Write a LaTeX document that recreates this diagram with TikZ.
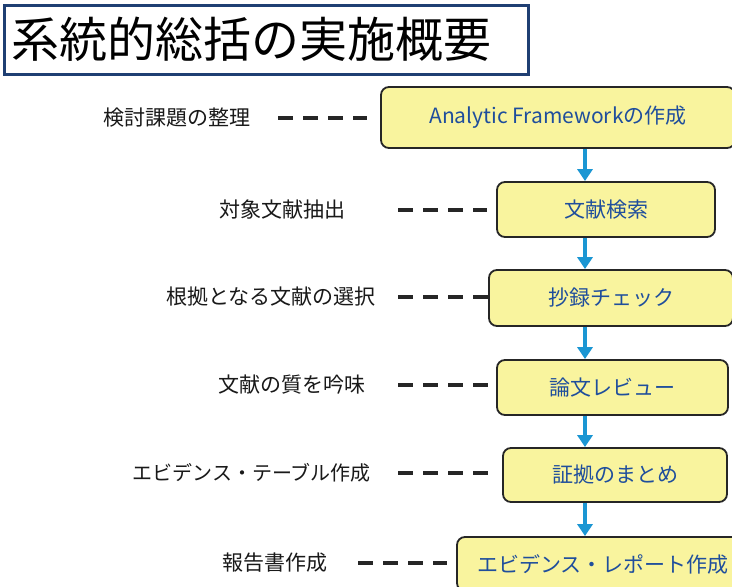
\documentclass[tikz,border=0pt]{standalone}
\usepackage{fontspec}
\newfontfamily\jp{Noto Sans CJK JP}
\usetikzlibrary{arrows.meta}
\definecolor{boxfill}{HTML}{F9F49E}
\definecolor{boxtext}{HTML}{1F4E9C}
\definecolor{arrblue}{HTML}{1B96D3}
\definecolor{titleblue}{HTML}{1F3F73}
\tikzset{
  stepbox/.style={draw=black!85, line width=1.8pt, fill=boxfill, rounded corners=8pt,
    text=boxtext, font=\jp\fontsize{21}{24}\selectfont, inner sep=0pt, anchor=center},
  lbl/.style={font=\jp\fontsize{21}{24}\selectfont, text=black!90, inner sep=0pt, anchor=east},
  dashline/.style={line width=4pt, dash pattern=on 15pt off 10pt, black!85},
  flow/.style={line width=4pt, arrblue, -{Triangle[width=15pt,length=12pt]}}
}
\begin{document}
\begin{tikzpicture}[x=1pt,y=-1pt]
\useasboundingbox (0,0) rectangle (732,587);
\clip (0,0) rectangle (732,587);
\fill[white] (0,0) rectangle (732,587);
% title
\node[draw=titleblue, line width=3pt, minimum width=524pt, minimum height=69pt, inner sep=0pt, anchor=north west] (title) at (2.5,3.5) {};
\node[font=\jp\fontsize{48}{52}\selectfont, anchor=west, inner sep=0pt] (ttext) at (11,39) {系統的総括の実施概要};
% boxes
\node[stepbox, minimum width=354pt, minimum height=61pt] (b1) at (558,117.5) {Analytic Frameworkの作成};
\node[stepbox, minimum width=218pt, minimum height=55pt] (b2) at (606,209.5) {文献検索};
\node[stepbox, minimum width=244pt, minimum height=56pt] (b3) at (611,298) {抄録チェック};
\node[stepbox, minimum width=231pt, minimum height=55pt] (b4) at (612.5,387.5) {論文レビュー};
\node[stepbox, minimum width=224pt, minimum height=54pt] (b5) at (615,475) {証拠のまとめ};
\node[stepbox, minimum width=292pt, minimum height=54pt] (b6) at (603,564) {エビデンス・レポート作成};
% arrows
\coordinate (ax) at (585,0);
\draw[flow] (b1.south -| ax) -- (b2.north -| ax);
\draw[flow] (b2.south -| ax) -- (b3.north -| ax);
\draw[flow] (b3.south -| ax) -- (b4.north -| ax);
\draw[flow] (b4.south -| ax) -- (b5.north -| ax);
\draw[flow] (b5.south -| ax) -- (b6.north -| ax);
% labels
\node[lbl] (l1) at (251,118) {検討課題の整理};
\node[lbl] (l2) at (346,210) {対象文献抽出};
\node[lbl] (l3) at (376,297) {根拠となる文献の選択};
\node[lbl] (l4) at (366,385) {文献の質を吟味};
\node[lbl, font=\jp\fontsize{20}{24}\selectfont] (l5) at (371,473) {エビデンス・テーブル作成};
\node[lbl] (l6) at (328,563) {報告書作成};
% dashed connectors
\coordinate (d1) at (278,118);
\coordinate (d2) at (398,210);
\coordinate (d3) at (398,297);
\coordinate (d4) at (398,385);
\coordinate (d5) at (398,473);
\coordinate (d6) at (358,563);
\draw[dashline, shorten >=13pt] (d1) -- (d1 -| b1.west);
\draw[dashline, shorten >=9pt] (d2) -- (d2 -| b2.west);
\draw[dashline] (d3) -- (d3 -| b3.west);
\draw[dashline, shorten >=7pt] (d4) -- (d4 -| b4.west);
\draw[dashline, shorten >=13pt] (d5) -- (d5 -| b5.west);
\draw[dashline, shorten >=9pt] (d6) -- (d6 -| b6.west);
\end{tikzpicture}
\end{document}
